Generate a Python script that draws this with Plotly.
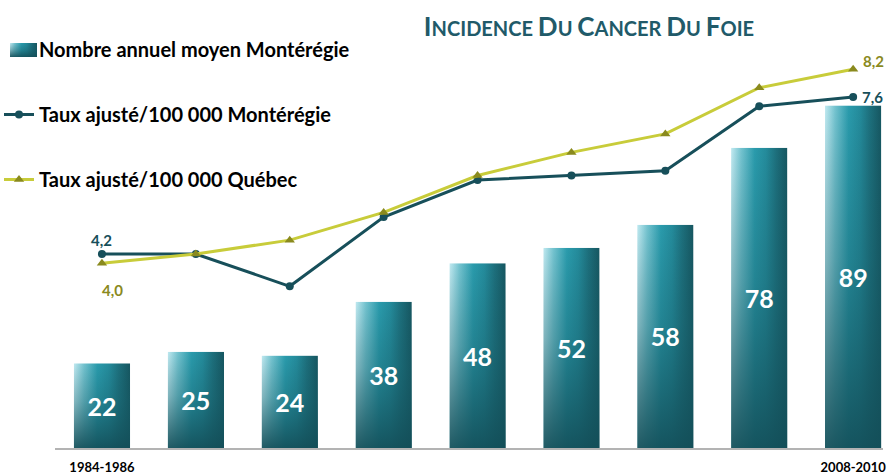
import base64
import plotly.graph_objects as go

# ---- data ----
periods = ["1984-1986", "1987-1989", "1990-1992", "1993-1995", "1996-1998",
           "1999-2001", "2002-2004", "2005-2007", "2008-2010"]
nombre_monteregie = [22, 25, 24, 38, 48, 52, 58, 78, 89]
taux_monteregie = [4.2, 4.2, 3.5, 5.0, 5.8, 5.9, 6.0, 7.4, 7.6]
taux_quebec = [4.0, 4.2, 4.5, 5.1, 5.9, 6.4, 6.8, 7.8, 8.2]
tick_labels = ["1984-1986", "2008-2010"]

name_bar = "Nombre annuel moyen Montérégie"
name_mont = "Taux ajusté/100 000 Montérégie"
name_qc = "Taux ajusté/100 000 Québec"

# ---- style ----
FONT = "Lato, 'Open Sans', sans-serif"
C_MONT = "#174f5a"
C_QC_LINE = "#c8cc3a"
C_QC_MARK = "#8a8a1e"
C_TITLE = "#215a69"
BAR_W = 0.6
W, H = 889, 475
ML, MR, MT, MB = 55, 6, 60, 27
PW, PH = W - ML - MR, H - MT - MB

svg = """<svg xmlns='http://www.w3.org/2000/svg' width='60' height='200' viewBox='0 0 60 200' preserveAspectRatio='none'>
<defs>
<linearGradient id='h' x1='0' y1='0' x2='1' y2='0'>
<stop offset='0' stop-color='#c2eaf1'/>
<stop offset='0.18' stop-color='#74c3cf'/>
<stop offset='0.42' stop-color='#2a9bac'/>
<stop offset='0.62' stop-color='#248b9b'/>
<stop offset='0.8' stop-color='#1d6f7c'/>
<stop offset='1' stop-color='#165660'/>
</linearGradient>
<linearGradient id='v' x1='0' y1='0' x2='0' y2='1'>
<stop offset='0' stop-color='#155560' stop-opacity='0'/>
<stop offset='0.45' stop-color='#155964' stop-opacity='0.35'/>
<stop offset='1' stop-color='#134e58' stop-opacity='0.92'/>
</linearGradient>
</defs>
<rect x='0' y='0' width='60' height='200' fill='url(#h)'/>
<rect x='0' y='0' width='60' height='200' fill='url(#v)'/>
</svg>"""
grad_uri = "data:image/svg+xml;base64," + base64.b64encode(svg.encode()).decode()


def fmt(v):
    return f"{v:.1f}".replace(".", ",")


fig = go.Figure()

fig.add_trace(go.Bar(
    x=periods, y=nombre_monteregie, name=name_bar, width=BAR_W,
    marker=dict(color="rgba(0,0,0,0)", line=dict(width=0)),
    text=[str(v) for v in nombre_monteregie], textposition="inside",
    insidetextanchor="middle",
    textfont=dict(family=FONT, size=25, color="white", weight="bold"),
    legendgroup="g1", yaxis="y",
))
fig.add_trace(go.Scatter(
    x=periods, y=taux_monteregie, name=name_mont, mode="lines+markers",
    line=dict(color=C_MONT, width=3),
    marker=dict(symbol="circle", size=8, color=C_MONT),
    legendgroup="g2", yaxis="y2",
))
fig.add_trace(go.Scatter(
    x=periods, y=taux_quebec, name=name_qc, mode="lines+markers",
    line=dict(color=C_QC_LINE, width=3),
    marker=dict(symbol="triangle-up", size=9, color=C_QC_MARK),
    legendgroup="g3", yaxis="y2",
))

# gradient fill of the bars, positioned from the bar data
images = []
for i, v in enumerate(nombre_monteregie):
    images.append(dict(source=grad_uri, xref="x", yref="y",
                       x=i - BAR_W / 2, y=v, sizex=BAR_W, sizey=v,
                       sizing="stretch", xanchor="left", yanchor="top",
                       layer="below"))
# legend swatch for the bar series (pixel box 10..37 x 43..57)
images.append(dict(source=grad_uri, xref="paper", yref="paper",
                   x=(10 - ML) / PW, y=(MT + PH - 43) / PH, sizex=27 / PW, sizey=14 / PH,
                   sizing="stretch", xanchor="left", yanchor="top", layer="above"))

n = len(periods) - 1
lab_font = dict(family=FONT, size=15, weight="bold")
annotations = [
    dict(x=0, y=taux_monteregie[0], xref="x", yref="y2", text=fmt(taux_monteregie[0]),
         showarrow=False, yshift=14, font=dict(lab_font, color=C_MONT)),
    dict(x=0, y=taux_quebec[0], xref="x", yref="y2", text=fmt(taux_quebec[0]),
         showarrow=False, xshift=11, yshift=-27, font=dict(lab_font, color=C_QC_MARK)),
    dict(x=n, y=taux_monteregie[-1], xref="x", yref="y2", text=fmt(taux_monteregie[-1]),
         showarrow=False, xshift=19, yshift=0, font=dict(lab_font, color=C_MONT)),
    dict(x=n, y=taux_quebec[-1], xref="x", yref="y2", text=fmt(taux_quebec[-1]),
         showarrow=False, xshift=20, yshift=8, font=dict(lab_font, color=C_QC_MARK)),
]

big = "<span style='font-size:26px'>%s</span>"
title_html = (big % "I" + "NCIDENCE " + big % "D" + "U " + big % "C" + "ANCER "
              + big % "D" + "U " + big % "F" + "OIE")

fig.update_layout(
    width=W, height=H,
    margin=dict(l=ML, r=MR, t=MT, b=MB, autoexpand=False),
    paper_bgcolor="white", plot_bgcolor="white",
    font=dict(family=FONT, color="black"),
    title=dict(text=title_html, x=589 / W, xanchor="center", xref="container",
               y=1 - 29 / H, yanchor="middle", yref="container",
               font=dict(family=FONT, size=20, color=C_TITLE, weight="bold")),
    barmode="overlay",
    showlegend=True,
    legend=dict(xref="paper", yref="paper", x=(-1 - ML) / PW, y=(MT + PH - 30) / PH,
                xanchor="left", yanchor="top", bgcolor="rgba(0,0,0,0)",
                font=dict(family=FONT, size=20, color="black", weight="bold"),
                tracegroupgap=36, traceorder="grouped", itemwidth=30),
    xaxis=dict(type="category", range=[-0.5, 8.318], showgrid=False, zeroline=False,
               showline=True, linecolor="#b3b3b3", linewidth=2,
               tickmode="array", tickvals=tick_labels, ticktext=tick_labels,
               ticks="", ticklabelstandoff=6, automargin=False,
               tickfont=dict(family=FONT, size=13, color="black", weight="bold")),
    yaxis=dict(range=[0, 100.8], visible=False, showgrid=False, zeroline=False),
    yaxis2=dict(range=[0, 8.4], overlaying="y", visible=False, showgrid=False, zeroline=False),
    images=images,
    annotations=annotations,
)

fig.write_html("out.html", config={"displayModeBar": False},
               post_script="document.body.style.margin='0px';")
